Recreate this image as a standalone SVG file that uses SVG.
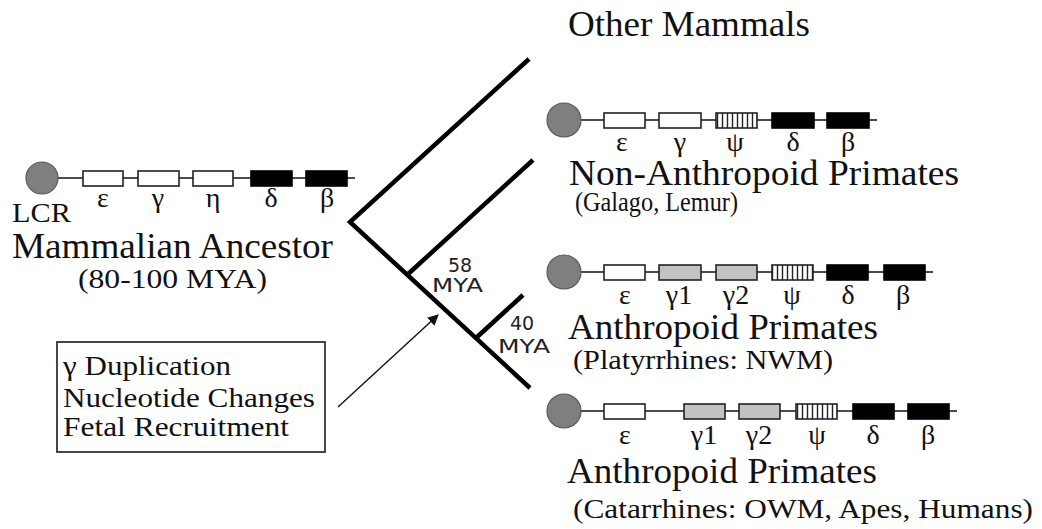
<svg xmlns="http://www.w3.org/2000/svg" width="1042" height="529" viewBox="0 0 1042 529">
  <style>
    .serif { font-family: "Liberation Serif", "Times New Roman", serif; fill: #111; }
    .big { font-size: 36px; }
    .sub { font-size: 28px; }
    .greek { font-size: 28px; text-anchor: middle; }
    .note { font-size: 28px; }
    .age { font-family: "DejaVu Sans", "Liberation Sans", sans-serif; font-size: 19px; fill: #222; }
    .lcr { fill: #7f7f7f; stroke: #5a5a5a; stroke-width: 1.2; }
    .chain { stroke: #111; stroke-width: 1.6; fill: none; }
    .white { fill: #fff; stroke: #222; stroke-width: 1.6; }
    .gray { fill: #c2c2c2; stroke: #222; stroke-width: 1.6; }
    .black { fill: #000; stroke: #000; stroke-width: 1.6; }
    .psi { fill: url(#stripes); stroke: #222; stroke-width: 1.6; }
    .branch { stroke: #000; stroke-width: 4.5; fill: none; stroke-linecap: butt; }
    .pointer { stroke: #111; stroke-width: 1.4; fill: none; }
  </style>
  <defs>
    <!-- vertical hatching used for the psi pseudogene -->
    <pattern id="stripes" patternUnits="userSpaceOnUse" width="5" height="10">
      <rect width="5" height="10" fill="#fff"/>
      <line x1="2.5" y1="0" x2="2.5" y2="10" stroke="#222" stroke-width="1.4"/>
    </pattern>
    <marker id="head" viewBox="0 0 10 10" refX="9" refY="5" markerWidth="11" markerHeight="11" markerUnits="userSpaceOnUse" orient="auto">
      <path d="M0,0 L10,5 L0,10 z" fill="#111"/>
    </marker>
  </defs>

  <rect width="1042" height="529" fill="#fff"/>

  <!-- ancestral beta-globin cluster -->
  <g id="ancestor">
    <line class="chain" x1="42" y1="178" x2="355" y2="178"/>
    <circle class="lcr" cx="42" cy="178" r="16"/>
    <rect class="white" x="83" y="171" width="40" height="15"/>
    <rect class="white" x="138" y="171" width="41" height="15"/>
    <rect class="white" x="193" y="171" width="40" height="15"/>
    <rect class="black" x="251" y="171" width="41" height="15"/>
    <rect class="black" x="306" y="171" width="41" height="15"/>
    <g class="serif greek">
      <text x="103" y="207">ε</text>
      <text x="158" y="207">γ</text>
      <text x="213" y="207">η</text>
      <text x="271" y="207">δ</text>
      <text x="327" y="207">β</text>
    </g>
    <text class="serif" x="12" y="222" font-size="28" textLength="59" lengthAdjust="spacingAndGlyphs">LCR</text>
    <text class="serif big" x="12" y="258" textLength="321" lengthAdjust="spacingAndGlyphs">Mammalian Ancestor</text>
    <text class="serif sub" x="78" y="288" textLength="189" lengthAdjust="spacingAndGlyphs">(80-100 MYA)</text>
  </g>

  <!-- other mammals -->
  <g id="other-mammals">
    <text class="serif big" x="568" y="36" textLength="242" lengthAdjust="spacingAndGlyphs">Other Mammals</text>
  </g>

  <!-- non-anthropoid primates -->
  <g id="non-anthropoid">
    <line class="chain" x1="564" y1="120" x2="877" y2="120"/>
    <circle class="lcr" cx="564" cy="120" r="17"/>
    <rect class="white" x="604" y="113" width="41" height="15"/>
    <rect class="white" x="659" y="113" width="42" height="15"/>
    <rect class="psi" x="716" y="113" width="41" height="15"/>
    <rect class="black" x="772" y="113" width="42" height="15"/>
    <rect class="black" x="827" y="113" width="42" height="15"/>
    <g class="serif greek">
      <text x="622" y="151">ε</text>
      <text x="680" y="151">γ</text>
      <text x="735" y="151">ψ</text>
      <text x="793" y="151">δ</text>
      <text x="848" y="151">β</text>
    </g>
    <text class="serif big" x="569" y="185" textLength="390" lengthAdjust="spacingAndGlyphs">Non-Anthropoid Primates</text>
    <text class="serif sub" x="575" y="211" font-size="27" textLength="163" lengthAdjust="spacingAndGlyphs">(Galago, Lemur)</text>
  </g>

  <!-- platyrrhines -->
  <g id="platyrrhines">
    <line class="chain" x1="564" y1="272" x2="933" y2="272"/>
    <circle class="lcr" cx="564" cy="272" r="17"/>
    <rect class="white" x="604" y="265" width="41" height="15"/>
    <rect class="gray" x="659" y="265" width="42" height="15"/>
    <rect class="gray" x="716" y="265" width="41" height="15"/>
    <rect class="psi" x="772" y="265" width="41" height="15"/>
    <rect class="black" x="827" y="265" width="41" height="15"/>
    <rect class="black" x="884" y="265" width="41" height="15"/>
    <g class="serif greek">
      <text x="625" y="304">ε</text>
      <text x="679" y="304">γ1</text>
      <text x="736" y="304">γ2</text>
      <text x="792" y="304">ψ</text>
      <text x="848" y="304">δ</text>
      <text x="903" y="304">β</text>
    </g>
    <text class="serif big" x="568" y="339" textLength="310" lengthAdjust="spacingAndGlyphs">Anthropoid Primates</text>
    <text class="serif sub" x="573" y="369" textLength="260" lengthAdjust="spacingAndGlyphs">(Platyrrhines: NWM)</text>
  </g>

  <!-- catarrhines -->
  <g id="catarrhines">
    <line class="chain" x1="564" y1="411" x2="957" y2="411"/>
    <circle class="lcr" cx="564" cy="411" r="17"/>
    <rect class="white" x="604" y="404" width="41" height="15"/>
    <rect class="gray" x="684" y="404" width="41" height="15"/>
    <rect class="gray" x="739" y="404" width="41" height="15"/>
    <rect class="psi" x="796" y="404" width="41" height="15"/>
    <rect class="black" x="853" y="404" width="41" height="15"/>
    <rect class="black" x="908" y="404" width="41" height="15"/>
    <g class="serif greek">
      <text x="625" y="444">ε</text>
      <text x="704" y="444">γ1</text>
      <text x="759" y="444">γ2</text>
      <text x="817" y="444">ψ</text>
      <text x="873" y="444">δ</text>
      <text x="928" y="444">β</text>
    </g>
    <text class="serif big" x="567" y="483" textLength="310" lengthAdjust="spacingAndGlyphs">Anthropoid Primates</text>
    <text class="serif sub" x="573" y="518" textLength="460" lengthAdjust="spacingAndGlyphs">(Catarrhines: OWM, Apes, Humans)</text>
  </g>

  <!-- events along the anthropoid stem -->
  <g id="events">
    <rect x="57" y="342" width="268" height="110" fill="#fff" stroke="#333" stroke-width="1.8"/>
    <text class="serif note" x="63" y="375" textLength="168" lengthAdjust="spacingAndGlyphs">γ Duplication</text>
    <text class="serif note" x="63" y="407" textLength="252" lengthAdjust="spacingAndGlyphs">Nucleotide Changes</text>
    <text class="serif note" x="63" y="436" textLength="226" lengthAdjust="spacingAndGlyphs">Fetal Recruitment</text>
  </g>

  <!-- divergence times -->
  <g id="ages">
    <text class="age" x="448" y="272">58</text>
    <text class="age" x="432" y="292" textLength="51" lengthAdjust="spacingAndGlyphs">MYA</text>
    <text class="age" x="510" y="330">40</text>
    <text class="age" x="498" y="353" textLength="52" lengthAdjust="spacingAndGlyphs">MYA</text>
  </g>

  <!-- tree branches and pointer -->
  <g id="connectors">
    <polyline class="branch" points="529,59 350,222 530,388"/>
    <line class="branch" x1="407" y1="275" x2="533" y2="160" stroke-width="5"/>
    <line class="branch" x1="476" y1="338" x2="523" y2="295"/>
    <line class="pointer" x1="338" y1="407" x2="438" y2="315" marker-end="url(#head)"/>
  </g>
</svg>
